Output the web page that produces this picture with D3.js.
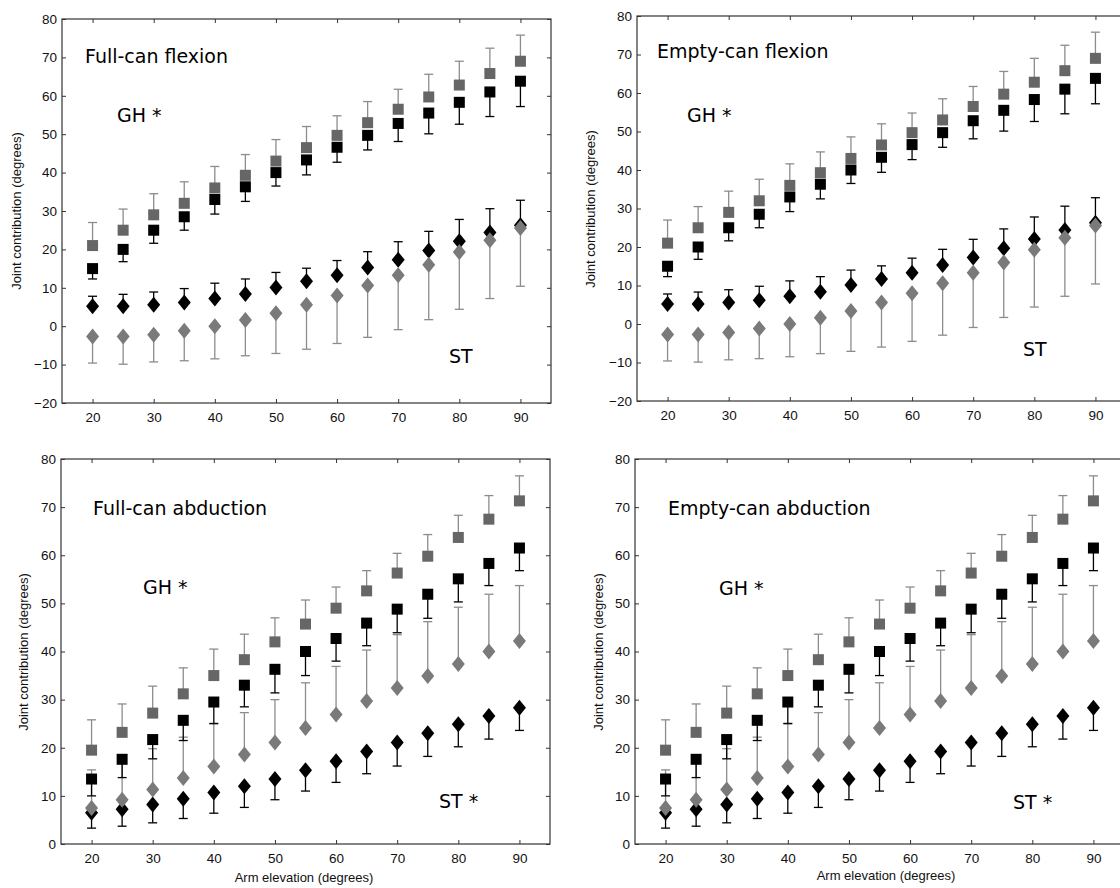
<!DOCTYPE html>
<html><head><meta charset="utf-8">
<script src="https://cdn.jsdelivr.net/npm/d3@7"></script>
<style>
body{margin:0;background:#fff}
svg{display:block}
.tick text{font-family:"Liberation Sans",Arial,sans-serif;font-size:13.5px;fill:#111}
.lab{font-family:"Liberation Sans",Arial,sans-serif;font-size:13px;fill:#111}
.big{font-family:"DejaVu Sans",sans-serif;font-size:19px;fill:#000}
</style>
</head><body><svg id="c" width="1120" height="888"></svg>
<script>
// ---------- data ----------
const elevations = [20,25,30,35,40,45,50,55,60,65,70,75,80,85,90];
const xTicks = [20,30,40,50,60,70,80,90];
const flexYTicks = [-20,-10,0,10,20,30,40,50,60,70,80];
const abdYTicks = [0,10,20,30,40,50,60,70,80];

// Flexion (full-can and empty-can read identical from the figure)
const flexGHGray      = [21,25,29,32,36,39.3,43,46.5,49.7,53,56.5,59.7,62.8,65.8,69];
const flexGHGrayUpper = [27,30.5,34.5,37.6,41.6,44.7,48.6,52,54.8,58.5,61.7,65.6,69,72.4,75.8];
const flexGHBlack     = [15,20,25,28.5,33,36.3,40,43.3,46.6,49.7,52.8,55.5,58.3,61,63.8];
const flexGHBlackLower= [12.3,16.8,21.6,25,29.2,32.5,36.5,39.4,42.7,45.9,48.1,50.1,52.6,54.6,57.2];
const flexSTBlack     = [5.2,5.2,5.6,6.2,7.2,8.4,10.1,11.7,13.3,15.3,17.3,19.7,22.1,24.4,26.3];
const flexSTBlackUpper= [7.8,8.3,8.9,9.8,11.2,12.3,14,15.1,17.1,19.4,22,24.7,27.8,30.6,32.8];
const flexSTGray      = [-2.7,-2.7,-2.2,-1.2,0,1.6,3.4,5.6,8,10.6,13.3,16,19.3,22.4,25.6];
const flexSTGrayLower = [-9.6,-9.9,-9.3,-9,-8.5,-7.7,-7.1,-6,-4.5,-2.9,-0.9,1.7,4.4,7.2,10.4];

// Abduction (full-can and empty-can read identical from the figure)
const abdGHGray       = [19.5,23.2,27.2,31.2,35,38.3,42,45.7,49,52.6,56.3,59.8,63.7,67.5,71.3];
const abdGHGrayUpper  = [25.8,29.1,32.8,36.6,40.5,43.6,47,50.7,53.4,56.8,60.4,64.3,68.3,72.4,76.5];
const abdGHBlack      = [13.5,17.6,21.7,25.7,29.5,33,36.3,40,42.7,45.9,48.8,51.9,55.1,58.3,61.5];
const abdGHBlackLower = [10,13.8,17.7,21.5,25,28.5,31.4,35,38,41.2,43.9,46.9,50.3,53.7,56.8];
const abdSTGray       = [7.5,9.2,11.3,13.7,16.1,18.6,21.1,24.1,26.9,29.7,32.4,34.9,37.4,40,42.2];
const abdSTGrayUpper  = [15.4,17.4,19.8,22.2,25.1,27.3,30,33.5,36.9,40.3,43.5,46.2,49.2,51.9,53.7];
const abdSTBlack      = [6.5,7.2,8.2,9.4,10.7,12,13.5,15.3,17.2,19.2,21.1,23,24.9,26.6,28.3];
const abdSTBlackLower = [3.3,3.7,4.4,5.3,6.4,7.6,9.2,11,12.8,14.6,16.2,18.2,20.2,21.8,23.6];

const titles = ["Full-can flexion","Empty-can flexion","Full-can abduction","Empty-can abduction"];
const ghLabel = "GH *";
const stLabels = ["ST","ST","ST *","ST *"];
const xLabel = "Arm elevation (degrees)";
const yLabel = "Joint contribution (degrees)";

// ---------- styling / layout ----------
const GRAY_SQ = "#666", GRAY_DI = "#7a7a7a", GRAY_ERR = "#8c8c8c", BLACK = "#000";
const flexSeries = [
  {v:flexGHGray, e:flexGHGrayUpper, shape:"sq", fill:GRAY_SQ, err:GRAY_ERR},
  {v:flexSTBlack, e:flexSTBlackUpper, shape:"di", fill:BLACK, err:BLACK},
  {v:flexSTGray, e:flexSTGrayLower, shape:"di", fill:GRAY_DI, err:GRAY_ERR},
  {v:flexGHBlack, e:flexGHBlackLower, shape:"sq", fill:BLACK, err:BLACK}
];
const abdSeries = [
  {v:abdGHGray, e:abdGHGrayUpper, shape:"sq", fill:GRAY_SQ, err:GRAY_ERR},
  {v:abdSTBlack, e:abdSTBlackLower, shape:"di", fill:BLACK, err:BLACK},
  {v:abdSTGray, e:abdSTGrayUpper, shape:"di", fill:GRAY_DI, err:GRAY_ERR},
  {v:abdGHBlack, e:abdGHBlackLower, shape:"sq", fill:BLACK, err:BLACK}
];

const panels = [
  {series:flexSeries, yDomain:[-20,80], yTicks:flexYTicks, l:62, r:551, t:19, b:403,
   title:[85,56], gh:[117,115], st:[449,356], ylab:[16,211], xlab:null},
  {series:flexSeries, yDomain:[-20,80], yTicks:flexYTicks, l:637, r:1126, t:16, b:401,
   title:[657,51], gh:[687,115], st:[1023,349], ylab:[590,209], xlab:null},
  {series:abdSeries, yDomain:[0,80], yTicks:abdYTicks, l:61, r:550, t:459, b:844,
   title:[93,508], gh:[143,587], st:[439,801], ylab:[23,652], xlab:[304,877]},
  {series:abdSeries, yDomain:[0,80], yTicks:abdYTicks, l:635, r:1124, t:459, b:844,
   title:[668,508], gh:[719,588], st:[1013,802], ylab:[598,652], xlab:[886,875]}
];

const svg = d3.select("#c");
const SQ = 11, DW = 6.5, DH = 8;
const diamond = `M0,${-DH}L${DW},0L0,${DH}L${-DW},0Z`;

panels.forEach((p, i) => {
  const x = d3.scaleLinear().domain([15,95]).range([p.l, p.r]);
  const y = d3.scaleLinear().domain(p.yDomain).range([p.b, p.t]);
  const g = svg.append("g");

  // frame
  g.append("rect").attr("x", p.l).attr("y", p.t).attr("width", p.r - p.l).attr("height", p.b - p.t)
    .attr("fill", "none").attr("stroke", "#333").attr("stroke-width", 1.2);

  const ax = (gen, tr) => {
    const a = g.append("g").attr("transform", tr).call(gen);
    a.select(".domain").remove();
    a.selectAll(".tick line").attr("stroke", "#333");
    return a;
  };
  ax(d3.axisBottom(x).tickValues(xTicks).tickSizeInner(-4).tickSizeOuter(0).tickPadding(9), `translate(0,${p.b})`);
  ax(d3.axisTop(x).tickValues(xTicks).tickSizeInner(-4).tickSizeOuter(0).tickFormat(""), `translate(0,${p.t})`);
  ax(d3.axisLeft(y).tickValues(p.yTicks).tickSizeInner(-4).tickSizeOuter(0).tickPadding(5)
      .tickFormat(d => d < 0 ? "\u2212" + Math.abs(d) : d), `translate(${p.l},0)`);
  ax(d3.axisRight(y).tickValues(p.yTicks).tickSizeInner(-4).tickSizeOuter(0).tickFormat(""), `translate(${p.r},0)`);

  // error bars
  p.series.forEach(s => {
    const eg = g.append("g").attr("stroke", s.err).attr("stroke-width", 1.3);
    elevations.forEach((e, k) => {
      eg.append("line").attr("x1", x(e)).attr("x2", x(e)).attr("y1", y(s.v[k])).attr("y2", y(s.e[k]));
      eg.append("line").attr("x1", x(e) - 4.5).attr("x2", x(e) + 4.5).attr("y1", y(s.e[k])).attr("y2", y(s.e[k]));
    });
  });
  // markers
  p.series.forEach(s => {
    const mg = g.append("g").attr("fill", s.fill);
    elevations.forEach((e, k) => {
      if (s.shape === "sq") {
        mg.append("rect").attr("x", x(e) - SQ/2).attr("y", y(s.v[k]) - SQ/2).attr("width", SQ).attr("height", SQ);
      } else {
        mg.append("path").attr("d", diamond).attr("transform", `translate(${x(e)},${y(s.v[k])})`);
      }
    });
  });

  g.append("text").attr("class", "big").attr("x", p.title[0]).attr("y", p.title[1]).attr("dy", "0.35em").text(titles[i]);
  g.append("text").attr("class", "big").attr("x", p.gh[0]).attr("y", p.gh[1]).attr("dy", "0.35em").text(ghLabel);
  g.append("text").attr("class", "big").attr("x", p.st[0]).attr("y", p.st[1]).attr("dy", "0.35em").text(stLabels[i]);
  g.append("text").attr("class", "lab").attr("text-anchor", "middle")
    .attr("transform", `translate(${p.ylab[0]},${p.ylab[1]}) rotate(-90)`).attr("dy", "0.35em").text(yLabel);
  if (p.xlab) {
    g.append("text").attr("class", "lab").attr("text-anchor", "middle")
      .attr("x", p.xlab[0]).attr("y", p.xlab[1]).attr("dy", "0.35em").text(xLabel);
  }
});
</script>
</body></html>
